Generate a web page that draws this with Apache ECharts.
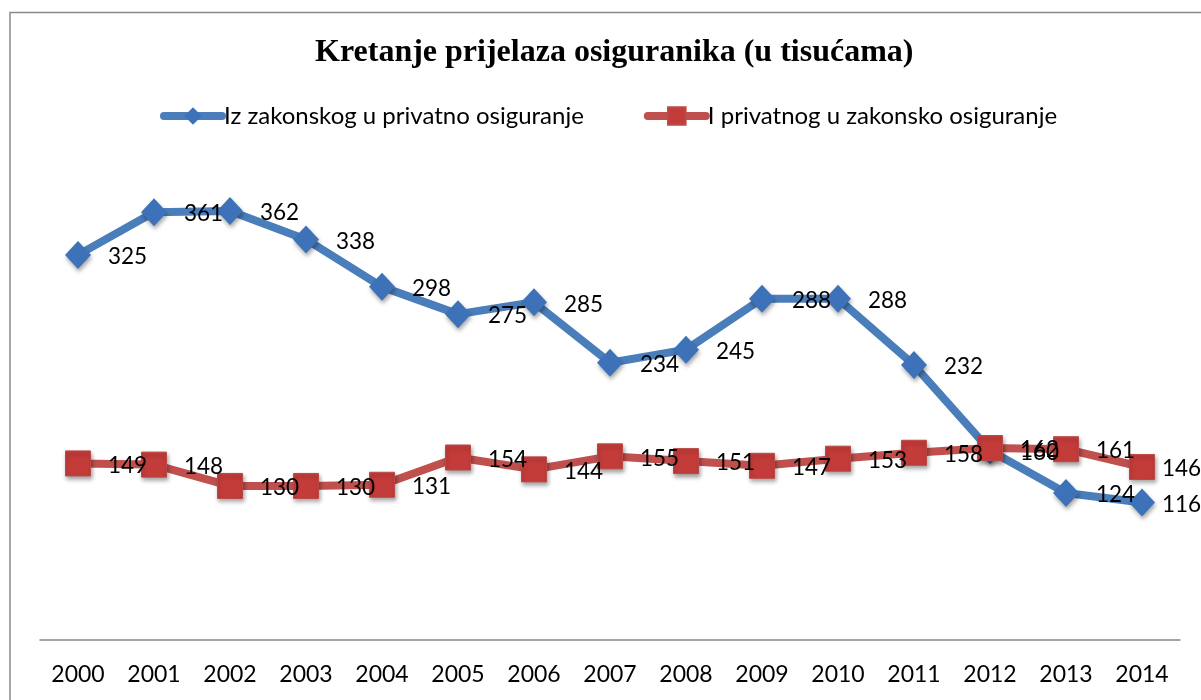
<!DOCTYPE html>
<html>
<head>
<meta charset="utf-8">
<script src="https://cdn.jsdelivr.net/npm/echarts@6/dist/echarts.min.js"></script>
<style>html,body{margin:0;padding:0;background:#fff}#c{width:1201px;height:700px}</style>
</head>
<body>
<div id="c"></div>
<script>
const titleText = 'Kretanje prijelaza osiguranika (u tisućama)';
const years = ['2000','2001','2002','2003','2004','2005','2006','2007','2008','2009','2010','2011','2012','2013','2014'];
const seriesNames = ['Iz zakonskog u privatno osiguranje', 'I privatnog u zakonsko osiguranje'];
const zakonskoUPrivatno = [325, 361, 362, 338, 298, 275, 285, 234, 245, 288, 288, 232, 160, 124, 116];
const privatnoUZakonsko = [149, 148, 130, 130, 131, 154, 144, 155, 151, 147, 153, 158, 162, 161, 146];

const chart = echarts.init(document.getElementById('c'));
const labelFont = 'Lato, "Open Sans", sans-serif';
const shadow = {shadowBlur: 4, shadowOffsetX: 1, shadowOffsetY: 3, shadowColor: 'rgba(0,0,0,0.35)'};
// last label is pulled inward so it fits inside the chart area
function withLastLabel(arr) {
  return arr.map((v, i) => i === arr.length - 1 ? {value: v, label: {offset: [-10, 2]}} : v);
}
chart.setOption({
  animation: false,
  backgroundColor: '#fff',
  graphic: [{
    type: 'rect', z: -1, silent: true,
    shape: {x: 10, y: 12.5, width: 1300, height: 800},
    style: {fill: 'none', stroke: '#8a8a8a', lineWidth: 1.5}
  }],
  title: {
    text: titleText, left: 310, top: 32,
    textStyle: {fontFamily: '"Liberation Serif", "Times New Roman", serif', fontWeight: 'bold', fontSize: 32, color: '#000'}
  },
  legend: {
    left: 155, top: 99, itemWidth: 58, itemHeight: 22, itemGap: 60,
    lineStyle: {width: 8, cap: 'round'},
    textStyle: {fontFamily: labelFont, fontSize: 24, color: '#000', padding: [0, 0, 0, -3]},
    data: seriesNames
  },
  grid: {left: 40, right: 21, top: 166, bottom: 60, containLabel: false},
  xAxis: {
    type: 'category', data: years, boundaryGap: true,
    axisLine: {show: true, lineStyle: {color: '#868686', width: 1.5}},
    axisTick: {show: false},
    axisLabel: {fontFamily: labelFont, fontSize: 23, color: '#000', margin: 23}
  },
  yAxis: {
    type: 'value', min: 0, max: 400, show: false,
    splitLine: {show: false}
  },
  series: [{
    name: seriesNames[0], type: 'line', data: withLastLabel(zakonskoUPrivatno),
    symbol: 'diamond', symbolSize: [26, 28],
    lineStyle: {color: '#4a7ebb', width: 8, cap: 'round', join: 'round'},
    itemStyle: Object.assign({color: '#3d72b8'}, shadow),
    label: {show: true, position: 'right', distance: 17, offset: [0, 2],
      fontFamily: labelFont, fontSize: 22.5, color: '#000'}
  }, {
    name: seriesNames[1], type: 'line', data: withLastLabel(privatnoUZakonsko),
    symbol: 'rect', symbolSize: 25,
    lineStyle: {color: '#c0504d', width: 8, cap: 'round', join: 'round'},
    itemStyle: Object.assign({color: '#c43c3a', borderColor: '#b94a47', borderWidth: 1}, shadow),
    label: {show: true, position: 'right', distance: 17, offset: [0, 2],
      fontFamily: labelFont, fontSize: 22.5, color: '#000'}
  }]
});
</script>
</body>
</html>
